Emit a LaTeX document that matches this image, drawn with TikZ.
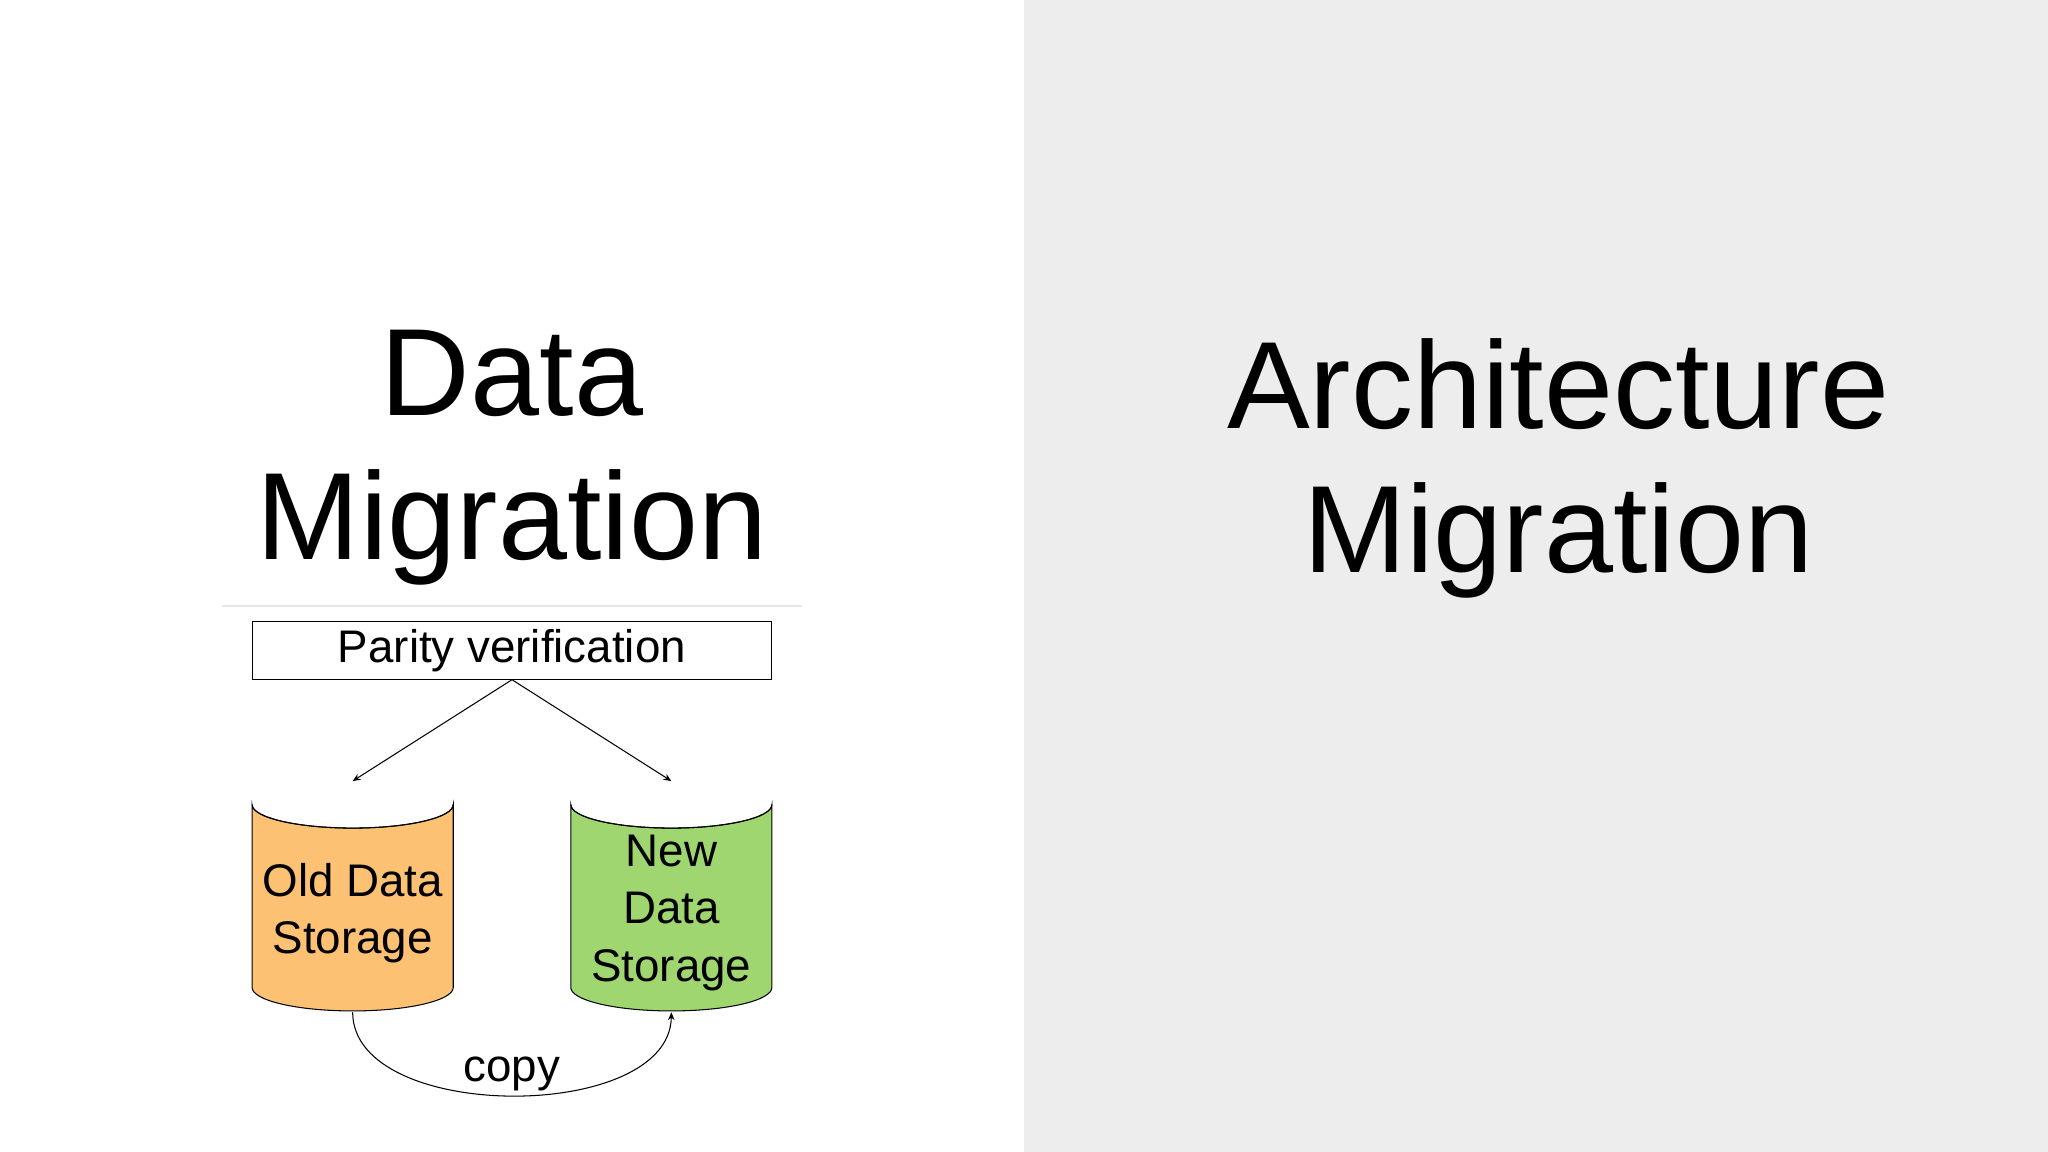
\documentclass[tikz,border=0pt]{standalone}
\usepackage{fontspec}
\usetikzlibrary{arrows.meta}
\setmainfont{Liberation Sans}
\definecolor{bgr}{HTML}{EEEDEE}
\definecolor{oldc}{HTML}{FDC173}
\definecolor{newc}{HTML}{A0D670}
\begin{document}
\begin{tikzpicture}[x=1pt,y=-1pt,
  big/.style={font=\fontsize{95}{110}\selectfont, align=center, inner sep=0},
  mid/.style={font=\fontsize{35}{44}\selectfont, align=center, inner sep=0},
  arr/.style={-{Stealth[length=6pt,width=5pt]}, line width=0.8pt}]
\useasboundingbox (0,0) rectangle (1568,882);
\fill[white] (0,0) rectangle (784,882);
\fill[bgr] (784,0) rectangle (1568,882);
\node[big, anchor=base] (t1) at (392,318) {Data};
\node[big, anchor=base] (t2) at (392,428) {Migration};
\node[big, anchor=base] (t3) at (1193,328) {Architecture};
\node[big, anchor=base] (t4) at (1193,438) {Migration};
\draw[black!10, line width=1pt] (170,464) -- (614,464);
\node[draw, line width=0.8pt, minimum width=398pt, minimum height=44pt, mid, inner sep=0] (pv) at (392,498) {Parity verification};
% cylinders
\foreach \cx/\col/\nm in {270/oldc/old, 514/newc/new}{
  \filldraw[fill=\col, line width=0.8pt] (\cx-77,616) -- (\cx-77,756) arc[start angle=180,end angle=360,x radius=77,y radius=-18] -- (\cx+77,616) arc[start angle=0,end angle=-180,x radius=77,y radius=-18] -- cycle;
  \draw[line width=0.8pt] (\cx-77,616) arc[start angle=180,end angle=360,x radius=77,y radius=-18];
  \coordinate (\nm top) at (\cx,598);
  \coordinate (\nm bot) at (\cx,775);
}
\node[mid] (oldl) at (270,699) {Old Data\\Storage};
\node[mid] (newl) at (514,699) {New\\Data\\Storage};
\draw[arr] (pv.south) -- (oldtop);
\draw[arr] (pv.south) -- (newtop);
\draw[arr] (oldbot) .. controls (270,860) and (513,860) .. (newbot);
\node[mid] (cp) at (392,822) {copy};
\end{tikzpicture}
\end{document}
